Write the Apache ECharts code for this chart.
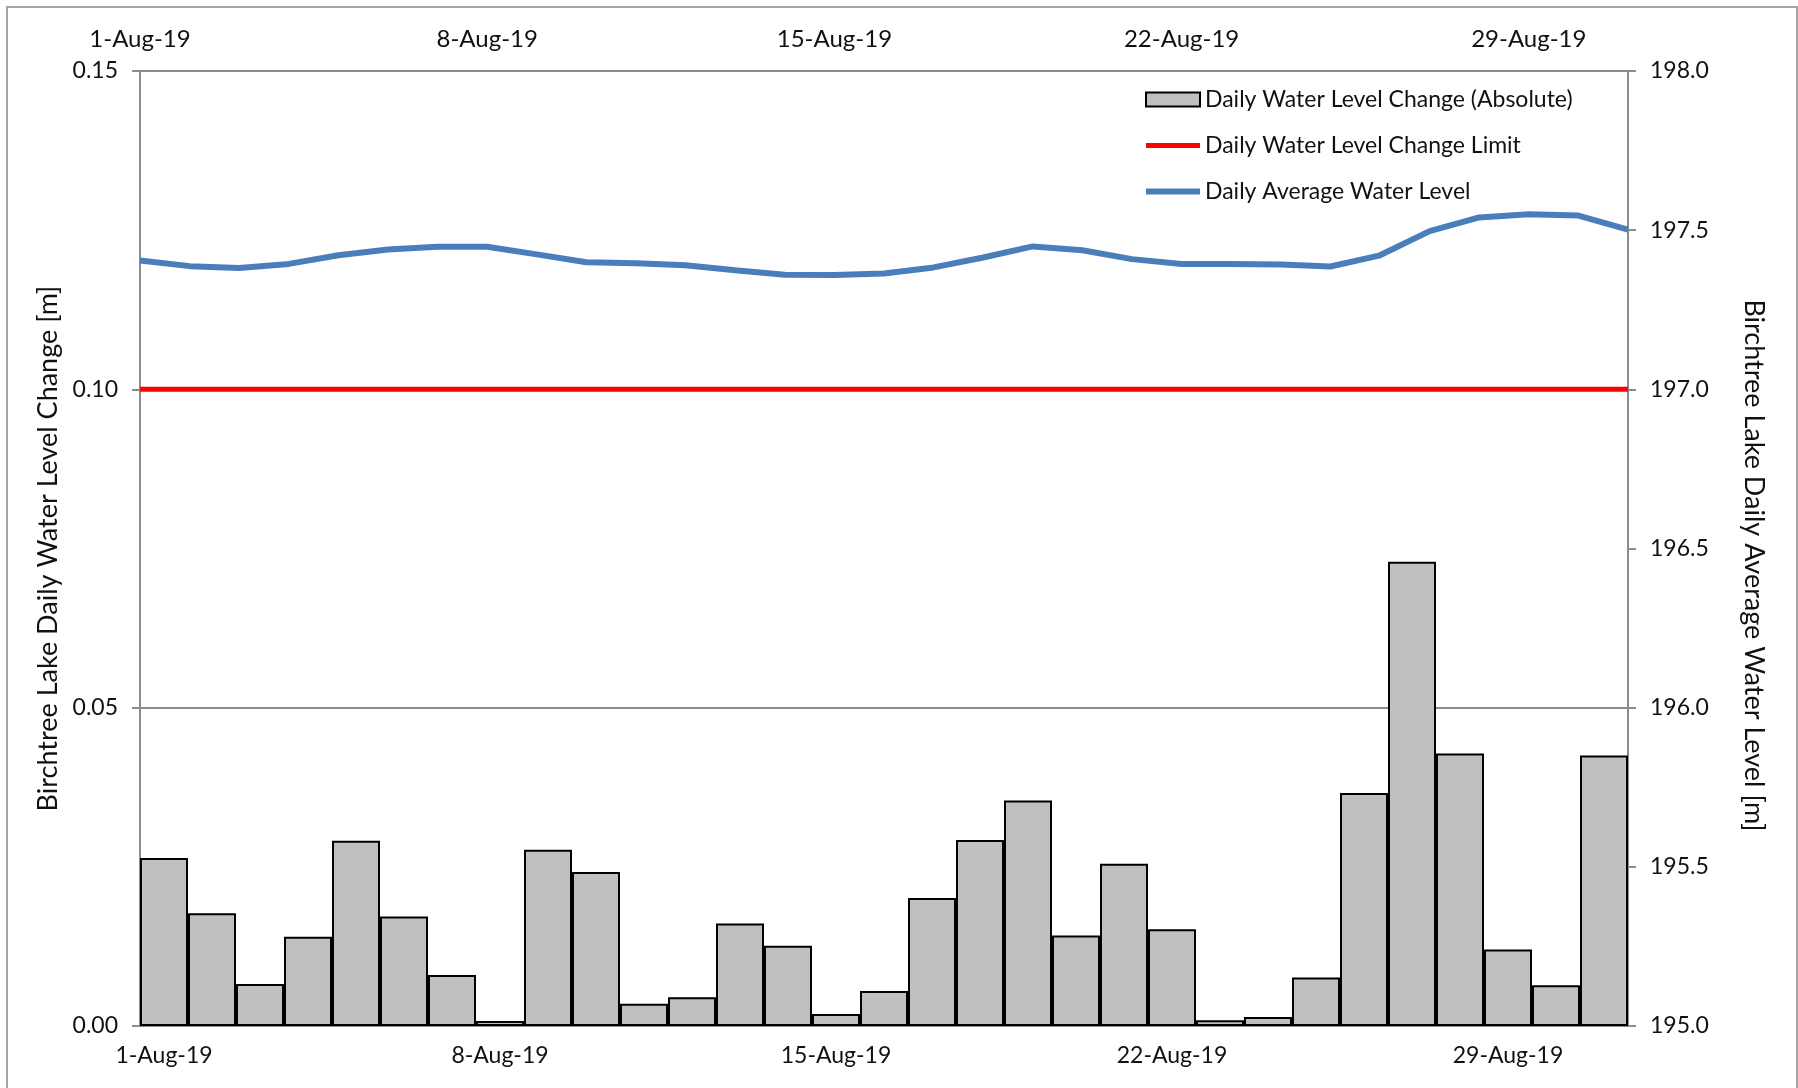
<!DOCTYPE html>
<html>
<head>
<meta charset="utf-8">
<script src="https://cdn.jsdelivr.net/npm/echarts@6/dist/echarts.min.js"></script>
<style>
  html, body { margin: 0; padding: 0; background: #fff; }
  #chart { width: 1798px; height: 1088px; }
</style>
</head>
<body>
<div id="chart"></div>
<script>
// day labels, 1 to 31 August 2019
const days = [
  '1-Aug-19', '2-Aug-19', '3-Aug-19', '4-Aug-19', '5-Aug-19', '6-Aug-19', '7-Aug-19',
  '8-Aug-19', '9-Aug-19', '10-Aug-19', '11-Aug-19', '12-Aug-19', '13-Aug-19', '14-Aug-19',
  '15-Aug-19', '16-Aug-19', '17-Aug-19', '18-Aug-19', '19-Aug-19', '20-Aug-19', '21-Aug-19',
  '22-Aug-19', '23-Aug-19', '24-Aug-19', '25-Aug-19', '26-Aug-19', '27-Aug-19', '28-Aug-19',
  '29-Aug-19', '30-Aug-19', '31-Aug-19'
]

// absolute daily change [m]
const dailyChange = [
  0.0264, 0.0177, 0.0066, 0.0140, 0.0291, 0.0172, 0.0080, 0.0008, 0.0277, 0.0242,
  0.0035, 0.0045, 0.0161, 0.0126, 0.0019, 0.0055, 0.0201, 0.0292, 0.0354, 0.0142,
  0.0255, 0.0152, 0.0009, 0.0014, 0.0076, 0.0366, 0.0729, 0.0428, 0.0120, 0.0064,
  0.0425
]

// limit on the daily change [m]
const changeLimit = [
  0.1, 0.1, 0.1, 0.1, 0.1, 0.1, 0.1, 0.1, 0.1, 0.1, 0.1, 0.1, 0.1, 0.1, 0.1, 0.1,
  0.1, 0.1, 0.1, 0.1, 0.1, 0.1, 0.1, 0.1, 0.1, 0.1, 0.1, 0.1, 0.1, 0.1, 0.1
]

// daily average water level [m]
const avgLevel = [
  197.405, 197.387, 197.381, 197.394, 197.421, 197.439, 197.448, 197.448, 197.424, 197.399,
  197.396, 197.390, 197.374, 197.360, 197.359, 197.364, 197.383, 197.414, 197.449, 197.437,
  197.409, 197.394, 197.394, 197.392, 197.386, 197.421, 197.497, 197.540, 197.550, 197.546,
  197.502
]

const FONT = 'Lato'
const AXIS_GRAY = '#8c8c8c'
const RED = '#ff0000'
const BLUE = '#4a7ebb'

const chart = echarts.init(document.getElementById('chart'))

const option = {
  backgroundColor: '#fff',
  animation: false,
  textStyle: { fontFamily: FONT, color: '#111' },
  graphic: [{
    type: 'rect',
    shape: { x: 7, y: 7, width: 1790, height: 1100 },
    style: { fill: 'none', stroke: '#a6a6a6', lineWidth: 2 },
    silent: true
  }],
  grid: { left: 140, right: 170, top: 71, bottom: 62 },
  legend: {
    orient: 'vertical',
    left: 1138,
    top: 83,
    itemWidth: 54,
    itemHeight: 14,
    itemGap: 23,
    textStyle: { fontSize: 23, fontFamily: FONT, color: '#111' },
    data: [
      { name: 'Daily Water Level Change (Absolute)', icon: 'rect' },
      { name: 'Daily Water Level Change Limit', itemStyle: { opacity: 0 }, lineStyle: { width: 5, color: RED } },
      { name: 'Daily Average Water Level', itemStyle: { opacity: 0 }, lineStyle: { width: 6, color: BLUE } }
    ]
  },
  xAxis: [
    {
      type: 'category',
      position: 'bottom',
      data: days,
      boundaryGap: true,
      axisLine: { lineStyle: { color: AXIS_GRAY, width: 2 } },
      axisTick: { interval: 6, length: 8, lineStyle: { color: AXIS_GRAY, width: 2 } },
      axisLabel: { interval: 6, fontSize: 23, margin: 18, color: '#111', fontFamily: FONT },
      splitLine: { show: false }
    },
    {
      type: 'category',
      position: 'top',
      data: days,
      boundaryGap: false,
      axisLine: { lineStyle: { color: AXIS_GRAY, width: 2 } },
      axisTick: { show: false },
      axisLabel: { interval: 6, fontSize: 24, margin: 20, color: '#111', fontFamily: FONT },
      splitLine: { show: false }
    }
  ],
  yAxis: [
    {
      type: 'value',
      position: 'left',
      min: 0,
      max: 0.15,
      interval: 0.05,
      name: 'Birchtree Lake Daily Water Level Change [m]',
      nameLocation: 'middle',
      nameRotate: 90,
      nameGap: 78,
      nameTextStyle: { fontSize: 27, color: '#111', fontFamily: FONT },
      axisLine: { show: true, lineStyle: { color: AXIS_GRAY, width: 2 } },
      axisTick: { show: true, length: 8, lineStyle: { color: AXIS_GRAY, width: 2 } },
      axisLabel: { fontSize: 23, margin: 22, color: '#111', fontFamily: FONT, formatter: v => v.toFixed(2) },
      splitLine: { show: true, lineStyle: { color: AXIS_GRAY, width: 2 } }
    },
    {
      type: 'value',
      position: 'right',
      min: 195,
      max: 198,
      interval: 0.5,
      name: 'Birchtree Lake Daily Average Water Level [m]',
      nameLocation: 'middle',
      nameRotate: -90,
      nameGap: 112,
      nameTextStyle: { fontSize: 27, color: '#111', fontFamily: FONT, padding: [0, 0, 0, 34] },
      axisLine: { show: true, lineStyle: { color: AXIS_GRAY, width: 2 } },
      axisTick: { show: true, length: 8, lineStyle: { color: AXIS_GRAY, width: 2 } },
      axisLabel: { fontSize: 23, margin: 22, color: '#111', fontFamily: FONT, formatter: v => v.toFixed(1) },
      splitLine: { show: false }
    }
  ],
  series: [
    {
      name: 'Daily Water Level Change (Absolute)',
      type: 'bar',
      xAxisIndex: 0,
      yAxisIndex: 0,
      data: dailyChange,
      barCategoryGap: '0%',
      itemStyle: { color: '#c0c0c0', borderColor: '#000', borderWidth: 2 },
      z: 2
    },
    {
      name: 'Daily Water Level Change Limit',
      type: 'line',
      xAxisIndex: 1,
      yAxisIndex: 0,
      data: changeLimit,
      symbol: 'none',
      lineStyle: { color: RED, width: 5 },
      itemStyle: { color: RED },
      z: 3
    },
    {
      name: 'Daily Average Water Level',
      type: 'line',
      xAxisIndex: 1,
      yAxisIndex: 1,
      data: avgLevel,
      symbol: 'none',
      lineStyle: { color: BLUE, width: 6 },
      itemStyle: { color: BLUE },
      z: 4
    }
  ]
}

chart.setOption(option)
</script>
</body>
</html>
